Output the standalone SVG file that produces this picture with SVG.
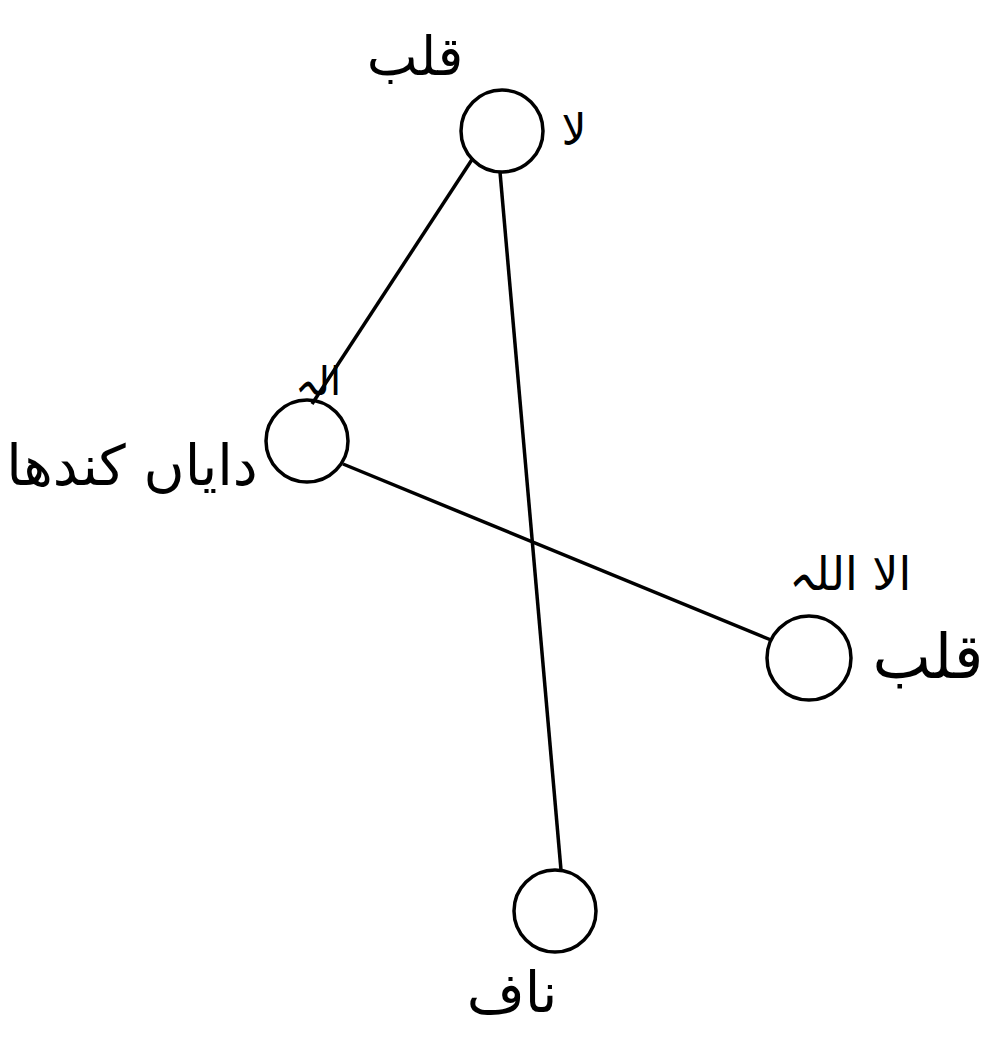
<svg xmlns="http://www.w3.org/2000/svg" width="992" height="1038" viewBox="0 0 992 1038">
<style>
.n{fill:none;stroke:#000;stroke-width:3.5}
.e{stroke:#000;stroke-width:3.5;fill:none}
text{font-family:"DejaVu Sans",sans-serif;fill:#000;text-anchor:middle;direction:rtl}
</style>
<rect width="992" height="1038" fill="#fff"/>
<g id="connectors">
<line class="e" x1="473" y1="158" x2="312" y2="404"/>
<line class="e" x1="500" y1="172" x2="561" y2="870"/>
<line class="e" x1="343" y1="464" x2="771" y2="640"/>
</g>
<g id="node-top">
<circle class="n" cx="502" cy="131" r="41"/>
<text x="415" y="75" font-size="54">قلب</text>
<text x="574" y="145" font-size="44">لا</text>
</g>
<g id="node-left">
<circle class="n" cx="307" cy="441" r="41"/>
<text x="318" y="395" font-size="40">الہ</text>
<text x="132" y="485" font-size="56">دایاں کندھا</text>
</g>
<g id="node-right">
<circle class="n" cx="809" cy="658" r="42"/>
<text x="850" y="590" font-size="46">الا اللہ</text>
<text x="928" y="678" font-size="62">قلب</text>
</g>
<g id="node-bottom">
<circle class="n" cx="555" cy="911" r="41"/>
<text x="512" y="1012" font-size="56">ناف</text>
</g>
</svg>
